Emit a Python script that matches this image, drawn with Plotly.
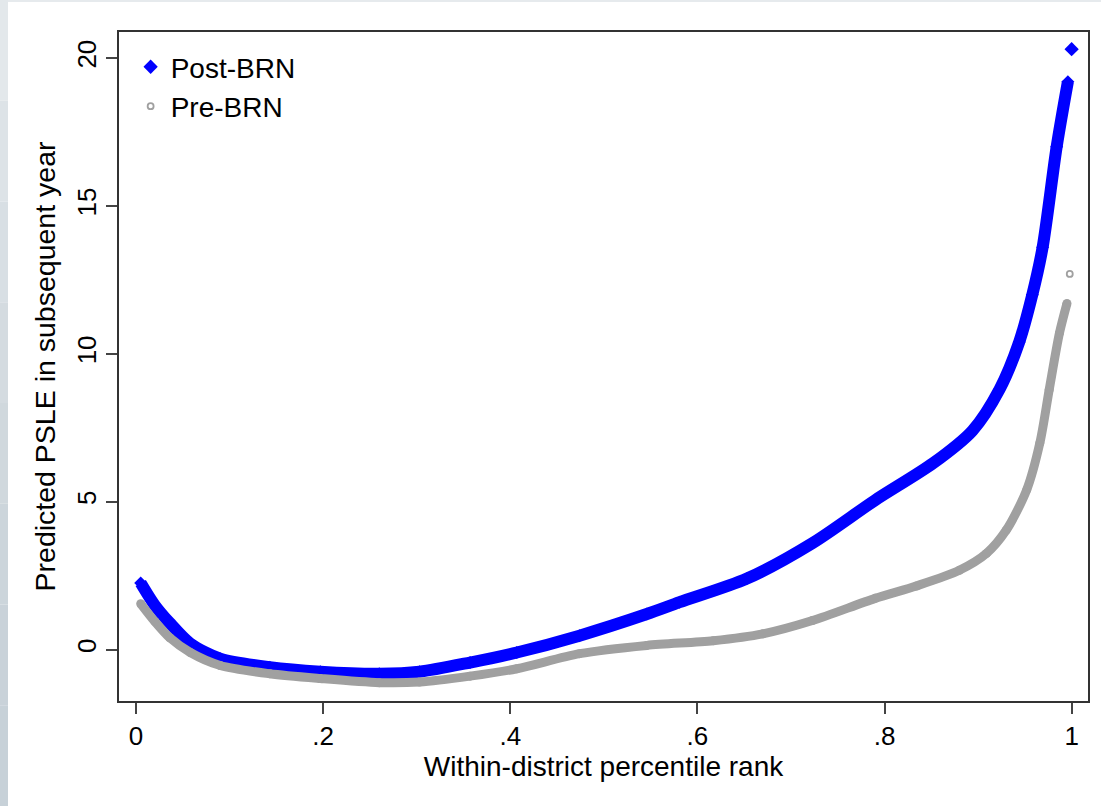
import plotly.graph_objects as go

# ---- data ----
post_x = [0.005, 0.02, 0.036, 0.058, 0.09, 0.143, 0.197, 0.26, 0.303, 0.357, 0.407,
          0.474, 0.546, 0.581, 0.653, 0.723, 0.79, 0.852, 0.894, 0.923, 0.944, 0.958,
          0.969, 0.984, 0.996]
post_y = [2.25, 1.5, 0.9, 0.2, -0.31, -0.6, -0.75, -0.82, -0.75, -0.44, -0.1,
          0.47, 1.2, 1.6, 2.4, 3.6, 5.05, 6.3, 7.4, 8.8, 10.4, 12.0,
          13.6, 17.0, 19.2]
pre_x = [0.005, 0.02, 0.036, 0.058, 0.09, 0.143, 0.197, 0.26, 0.303, 0.357, 0.407,
         0.474, 0.546, 0.617, 0.67, 0.723, 0.79, 0.834, 0.88, 0.909, 0.93, 0.952,
         0.966, 0.976, 0.987, 0.995]
pre_y = [1.55, 0.95, 0.4, -0.1, -0.54, -0.82, -0.98, -1.12, -1.1, -0.9, -0.65,
         -0.14, 0.14, 0.3, 0.53, 0.98, 1.73, 2.15, 2.68, 3.25, 4.03, 5.4,
         6.98, 8.78, 10.7, 11.7]
post_out_x = [1.0]
post_out_y = [20.3]
pre_out_x = [0.998]
pre_out_y = [12.7]

x_ticks = [0, 0.2, 0.4, 0.6, 0.8, 1]
x_tick_labels = ["0", ".2", ".4", ".6", ".8", "1"]
y_ticks = [0, 5, 10, 15, 20]
y_tick_labels = ["0", "5", "10", "15", "20"]

BLUE = "#0000ff"
GRAY = "#a0a0a0"
FONT = "Liberation Sans, Arial, sans-serif"

fig = go.Figure()

# data curves (blue first, gray drawn on top)
fig.add_trace(go.Scatter(x=post_x, y=post_y, mode="lines+markers",
                         line=dict(color=BLUE, width=12, shape="spline", smoothing=0.8),
                         marker=dict(symbol="diamond", size=10, color=BLUE),
                         showlegend=False, hoverinfo="skip"))
fig.add_trace(go.Scatter(x=post_out_x, y=post_out_y, mode="markers",
                         marker=dict(symbol="diamond", size=11, color=BLUE),
                         showlegend=False, hoverinfo="skip"))
fig.add_trace(go.Scatter(x=pre_x, y=pre_y, mode="lines+markers",
                         line=dict(color=GRAY, width=9, shape="spline", smoothing=0.8),
                         marker=dict(symbol="circle", size=9, color=GRAY),
                         showlegend=False, hoverinfo="skip"))
fig.add_trace(go.Scatter(x=pre_out_x, y=pre_out_y, mode="markers",
                         marker=dict(symbol="circle-open", size=6, color=GRAY,
                                     line=dict(width=1.8, color=GRAY)),
                         showlegend=False, hoverinfo="skip"))

# legend entries
fig.add_trace(go.Scatter(x=[None], y=[None], mode="markers", name="Post-BRN",
                         marker=dict(symbol="diamond", size=11, color=BLUE)))
fig.add_trace(go.Scatter(x=[None], y=[None], mode="markers", name="Pre-BRN",
                         marker=dict(symbol="circle-open", size=6, color=GRAY,
                                     line=dict(width=1.8, color=GRAY))))

# page background strips (left gradient strip, top thin strip)
L, R, T, B = 119, 1088, 32, 701
W, H = R - L, B - T
def px_x(p):
    return (p - L) / W
def px_y(p):
    return (B - p) / H

band_cols = ["#e3e8eb", "#dde3e7", "#d8dfe4", "#d4dbe0", "#d0d8dd", "#ccd5db", "#c9d2d9", "#c7d1d8"]
n = len(band_cols)
for i, c in enumerate(band_cols):
    y0 = 806 * i / n
    y1 = 806 * (i + 1) / n
    fig.add_shape(type="rect", xref="paper", yref="paper",
                  x0=px_x(0), x1=px_x(8), y0=px_y(y1), y1=px_y(y0),
                  fillcolor=c, line=dict(width=0), layer="below")
fig.add_shape(type="rect", xref="paper", yref="paper",
              x0=px_x(8), x1=px_x(1101), y0=px_y(2), y1=px_y(0),
              fillcolor="#e6eaed", line=dict(width=0), layer="below")

axis_common = dict(showgrid=False, zeroline=False, showline=True, mirror=True,
                   linecolor="#333333", linewidth=1.5, ticks="outside", ticklen=11,
                   tickwidth=1.5, tickcolor="#444444",
                   tickfont=dict(family=FONT, size=26, color="black"))

fig.update_layout(
    width=1101, height=806,
    margin=dict(l=L, r=1101 - R, t=T, b=806 - B),
    paper_bgcolor="white", plot_bgcolor="white",
    font=dict(family=FONT, color="black"),
    xaxis=dict(range=[-0.0182, 1.0175], tickvals=x_ticks, ticktext=x_tick_labels,
               title=dict(text="Within-district percentile rank",
                          font=dict(family=FONT, size=28, color="black"), standoff=6),
               **axis_common),
    yaxis=dict(range=[-1.74, 20.88], tickvals=y_ticks, ticktext=y_tick_labels,
               tickangle=-90,
               title=dict(text="Predicted PSLE in subsequent year",
                          font=dict(family=FONT, size=28.5, color="black"), standoff=8),
               **axis_common),
    legend=dict(x=0.012, y=0.985, xanchor="left", yanchor="top",
                bgcolor="rgba(0,0,0,0)", borderwidth=0,
                font=dict(family=FONT, size=28, color="black"),
                itemsizing="trace"),
)

fig.write_html("out.html", config={"displayModeBar": False},
               post_script="document.body.style.margin='0';document.body.style.overflow='hidden';")
